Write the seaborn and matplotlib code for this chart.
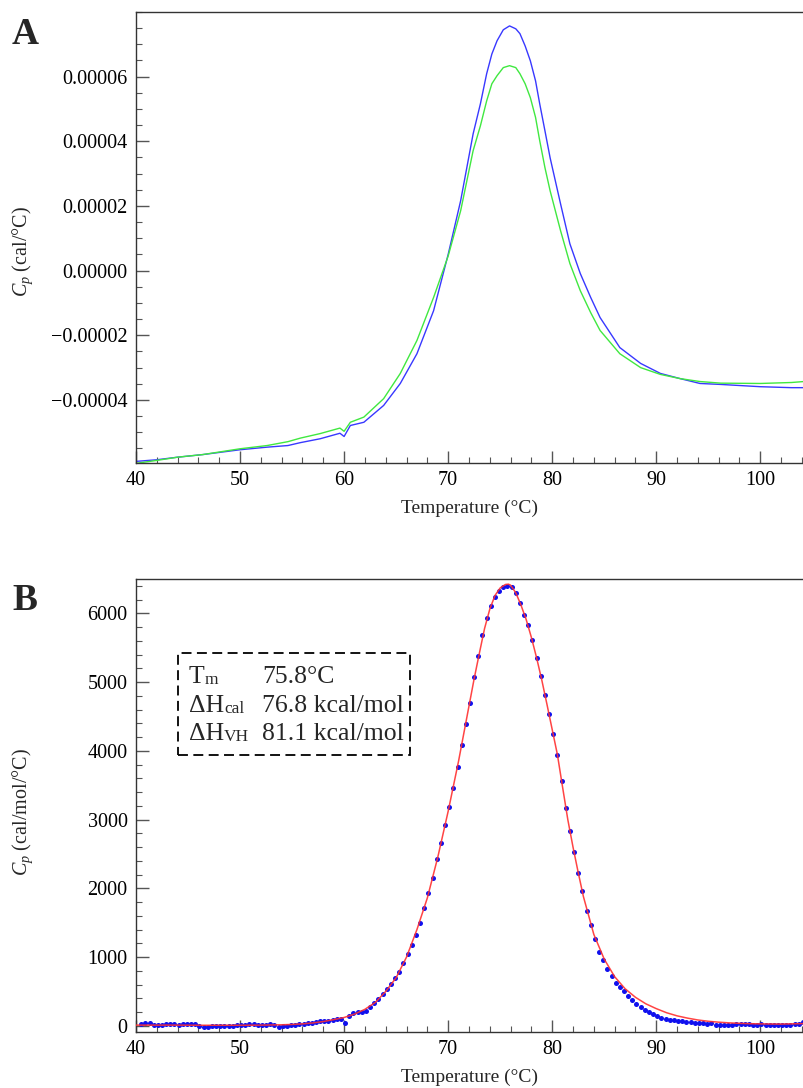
import numpy as np
import matplotlib
matplotlib.use("Agg")
import matplotlib.pyplot as plt
from matplotlib.ticker import MultipleLocator, FuncFormatter
from matplotlib.patches import Rectangle
import seaborn as sns

# ---------------- Panel A data (cal/°C) ----------------
temp_a = [40.0, 42.0, 44.0, 46.4, 50.0, 52.6, 54.6, 55.8, 57.7, 59.6, 60.0, 60.6,
          61.9, 63.8, 65.4, 67.0, 68.6, 70.0, 71.2, 72.4, 73.1, 73.7, 74.2, 74.7, 75.3,
          75.9, 76.5, 76.9, 77.4, 77.9, 78.4, 78.8, 79.3, 79.8, 80.8, 81.7, 82.7, 83.7,
          84.6, 86.5, 88.5, 90.4, 92.3, 94.2, 96.2, 100.0, 103.0, 104.2]
cp_blue = [-5.90e-5, -5.85e-5, -5.77e-5, -5.69e-5, -5.54e-5, -5.46e-5, -5.41e-5, -5.32e-5,
           -5.20e-5, -5.03e-5, -5.13e-5, -4.79e-5, -4.69e-5, -4.17e-5, -3.49e-5, -2.57e-5,
           -1.24e-5, 0.50e-5, 2.16e-5, 4.23e-5, 5.16e-5, 6.09e-5, 6.70e-5, 7.11e-5, 7.45e-5,
           7.57e-5, 7.48e-5, 7.33e-5, 6.95e-5, 6.49e-5, 5.87e-5, 5.16e-5, 4.33e-5, 3.49e-5,
           2.07e-5, 0.83e-5, -0.09e-5, -0.83e-5, -1.45e-5, -2.38e-5, -2.87e-5, -3.18e-5,
           -3.34e-5, -3.49e-5, -3.52e-5, -3.59e-5, -3.62e-5, -3.62e-5]
cp_green = [-5.96e-5, -5.87e-5, -5.77e-5, -5.69e-5, -5.51e-5, -5.41e-5, -5.29e-5, -5.18e-5,
            -5.04e-5, -4.87e-5, -4.97e-5, -4.69e-5, -4.53e-5, -3.96e-5, -3.18e-5, -2.16e-5,
            -0.83e-5, 0.45e-5, 1.85e-5, 3.71e-5, 4.48e-5, 5.25e-5, 5.78e-5, 6.03e-5, 6.28e-5,
            6.34e-5, 6.28e-5, 6.09e-5, 5.78e-5, 5.35e-5, 4.74e-5, 4.02e-5, 3.19e-5, 2.47e-5,
            1.24e-5, 0.22e-5, -0.62e-5, -1.30e-5, -1.85e-5, -2.57e-5, -3.00e-5, -3.21e-5,
            -3.34e-5, -3.43e-5, -3.48e-5, -3.49e-5, -3.46e-5, -3.43e-5]

# ---------------- Panel B data (cal/mol/°C) ----------------
temp_pts = np.round(np.arange(40.5, 104.15, 0.4), 1)
cp_pts = [25, 39, 34, 10, 5, 15, 20, 25, 22, 18,
          20, 22, 28, 32, -5, -15, -18, -5, 0, 2,
          -3, -5, 0, 5, 8, 12, 20, 22, 18, 15,
          18, 20, 15, -10, -5, 0, 8, 15, 22, 30,
          38, 48, 60, 65, 70, 77, 85, 92, 100, 39,
          146, 180, 195, 205, 215, 270, 330, 390, 460, 530,
          610, 690, 790, 913, 1040, 1170, 1320, 1500, 1710, 1930,
          2150, 2420, 2660, 2920, 3190, 3461, 3760, 4080, 4390, 4700,
          5080, 5380, 5680, 5930, 6110, 6240, 6330, 6385, 6400, 6380,
          6290, 6150, 5980, 5830, 5610, 5354, 5090, 4810, 4530, 4240,
          3946, 3560, 3170, 2840, 2530, 2230, 1960, 1664, 1460, 1270,
          1080, 960, 820, 720, 630, 560, 500, 430, 370, 315,
          270, 228, 195, 165, 140, 118, 100, 87, 78, 70,
          63, 55, 50, 45, 40, 35, 32, 40, 5, 12,
          15, 18, 15, 20, 22, 25, 20, 15, 10, 20,
          18, 12, 10, 5, 5, 10, 15, 20, 30, 55]
temp_fit = [40, 42, 44, 46, 48, 50, 52, 54, 55, 56, 57, 58, 59, 60, 61, 62, 63, 64, 65,
            66, 67, 68, 69, 70, 71, 72, 72.5, 73, 73.5, 74, 74.5, 75, 75.5, 75.8, 76,
            76.5, 77, 77.5, 78, 78.5, 79, 79.5, 80, 80.5, 81, 81.5, 82, 82.5, 83, 84,
            85, 86, 87, 88, 89, 90, 91, 92, 93, 94, 95, 96, 97, 98, 99, 100, 102, 104.2]
cp_fit = [10, 10, 10, 8, 8, 8, 10, 15, 20, 28, 42, 62, 90, 121, 170, 240, 340, 500, 700,
          1000, 1400, 1860, 2450, 3120, 3850, 4650, 5050, 5420, 5780, 6060, 6260, 6370,
          6420, 6425, 6410, 6300, 6120, 5910, 5650, 5354, 5030, 4674, 4310, 3946, 3470,
          3000, 2600, 2230, 1880, 1330, 970, 715, 540, 415, 320, 250, 190, 145, 112, 85,
          66, 53, 43, 36, 31, 28, 25, 33]

legend_main = ["T", "ΔH", "ΔH"]
legend_sub = ["m", "cal", "VH"]
legend_vals = ["75.8°C", "76.8 kcal/mol", "81.1 kcal/mol"]

xticks = [40, 50, 60, 70, 80, 90, 100]
yticks_a = [-4e-5, -2e-5, 0.0, 2e-5, 4e-5, 6e-5]
yticks_b = [0, 1000, 2000, 3000, 4000, 5000, 6000]

# ---------------- style ----------------
sns.set_style("ticks")
plt.rcParams['font.family'] = ['Liberation Serif', 'DejaVu Serif']
plt.rcParams['mathtext.fontset'] = 'custom'
plt.rcParams['mathtext.rm'] = 'Liberation Serif'
plt.rcParams['mathtext.it'] = 'Liberation Serif:italic'
plt.rcParams['axes.unicode_minus'] = True

W, H = 804, 1088
fig = plt.figure(figsize=(W / 100, H / 100), dpi=100)


def px_axes(l, t, r, b):
    return fig.add_axes([l / W, 1 - b / H, (r - l) / W, (b - t) / H])


axA = px_axes(136, 12, 804, 463)
axB = px_axes(136, 579, 804, 1032)


def style(ax):
    for s in ['left', 'bottom', 'top']:
        ax.spines[s].set_color('#333333')
        ax.spines[s].set_linewidth(1.0)
    ax.spines['right'].set_visible(False)
    ax.tick_params(which='both', direction='in', top=False, right=False,
                   labelsize=14.5, color='#555555', labelcolor='black')
    ax.tick_params(which='major', length=9, width=1.0, pad=6)
    ax.tick_params(which='minor', length=4.5, width=0.8)
    ax.set_xlim(40, 104.2)
    ax.xaxis.set_major_locator(plt.FixedLocator(xticks))
    ax.xaxis.set_minor_locator(MultipleLocator(2))
    ax.set_xlabel("Temperature (°C)", fontsize=14)
    ax.grid(False)


def fmt_a(v, _):
    if abs(v) < 1e-12:
        return "0.00000"
    return ("%.5f" % v).replace('-', '\u2212')


# ---- Panel A ----
sns.lineplot(x=temp_a, y=cp_blue, ax=axA, color='#3838ff', lw=1.0)
sns.lineplot(x=temp_a, y=cp_green, ax=axA, color='#40e840', lw=1.0)
style(axA)
axA.set_ylim(-5.95e-5, 8.0e-5)
axA.yaxis.set_major_locator(plt.FixedLocator(yticks_a))
axA.yaxis.set_minor_locator(MultipleLocator(0.5e-5))
axA.yaxis.set_major_formatter(FuncFormatter(fmt_a))
axA.set_ylabel(r"$C_p$ (cal/°C)", fontsize=14.5)
axA.yaxis.set_label_coords((35 - 136) / 668, 0.468)
axA.xaxis.set_label_coords(0.5, -0.082)

# ---- Panel B ----
sns.scatterplot(x=temp_pts, y=cp_pts, ax=axB, color='#1010ee', s=13, linewidth=0, zorder=2)
sns.lineplot(x=temp_fit, y=cp_fit, ax=axB, color='#ff3030', lw=1.1, zorder=3, alpha=0.9)
style(axB)
axB.set_ylim(-90, 6500)
axB.yaxis.set_major_locator(plt.FixedLocator(yticks_b))
axB.yaxis.set_minor_locator(MultipleLocator(200))
axB.set_ylabel(r"$C_p$ (cal/mol/°C)", fontsize=14.5)
axB.yaxis.set_label_coords((35 - 136) / 668, 0.486)
axB.xaxis.set_label_coords(0.5, -0.082)

# legend box
rows_y = [0.7698, 0.7071, 0.6446]
for y, m, s, v in zip(rows_y, legend_main, legend_sub, legend_vals):
    t = axB.text(0.0793, y, m, transform=axB.transAxes, fontsize=18.5,
                 va='baseline', ha='left')
    axB.annotate(s, xy=(1, 0), xycoords=t, fontsize=12.5, va='bottom', ha='left')
    axB.text(0.1886, y, v, transform=axB.transAxes, fontsize=18.5,
             va='baseline', ha='left')
rect = Rectangle((0.0629, 0.6115), 0.4102 - 0.0629, 0.8366 - 0.6115,
                 transform=axB.transAxes, fill=False, ls=(0, (5.5, 3)), lw=1.3,
                 ec='black', zorder=5)
axB.add_patch(rect)

# panel letters
fig.text(25 / W, 1 - 34 / H, "A", fontsize=27, fontweight='bold', ha='center', va='center')
fig.text(25 / W, 1 - 601 / H, "B", fontsize=27, fontweight='bold', ha='center', va='center')

fig.savefig("out.png", dpi=100)
